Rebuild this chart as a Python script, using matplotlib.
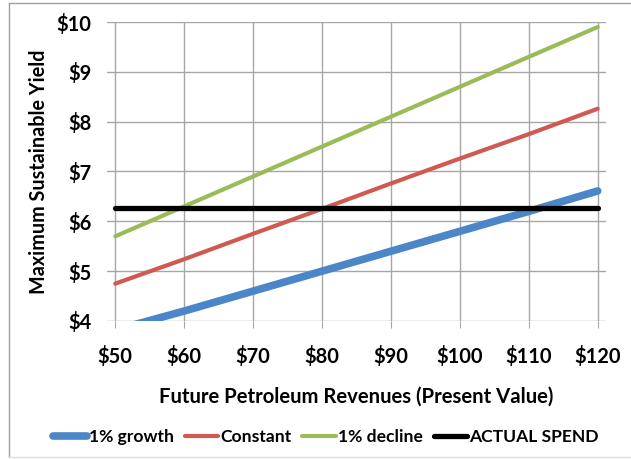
import matplotlib
matplotlib.use("Agg")
import matplotlib.pyplot as plt
from matplotlib.lines import Line2D

revenues = [50, 60, 70, 80, 90, 100, 110, 120]
growth_1pct = [3.82, 4.20, 4.60, 5.00, 5.40, 5.80, 6.20, 6.61]
constant = [4.75, 5.24, 5.75, 6.25, 6.76, 7.26, 7.75, 8.26]
decline_1pct = [5.70, 6.30, 6.90, 7.50, 8.10, 8.70, 9.30, 9.90]
actual_spend = [6.27] * len(revenues)

x_ticks = [50, 60, 70, 80, 90, 100, 110, 120]
x_labels = ["$50", "$60", "$70", "$80", "$90", "$100", "$110", "$120"]
y_ticks = [4, 5, 6, 7, 8, 9, 10]
y_labels = ["$4", "$5", "$6", "$7", "$8", "$9", "$10"]

plt.rcParams['font.family'] = ['Lato', 'DejaVu Sans']

W, H = 631, 459
fig = plt.figure(figsize=(W / 100, H / 100), dpi=100)
ax = fig.add_axes([107 / W, 1 - 321 / H, (606 - 107) / W, (321 - 22) / H])

ax.plot(revenues, growth_1pct, color="#4A86C8", lw=5.5, solid_capstyle="round", label="1% growth", zorder=3)
ax.plot(revenues, constant, color="#CF5A52", lw=3.0, solid_capstyle="round", label="Constant", zorder=3)
ax.plot(revenues, decline_1pct, color="#9BBB59", lw=3.0, solid_capstyle="round", label="1% decline", zorder=3)
ax.plot(revenues, actual_spend, color="black", lw=3.8, solid_capstyle="round", label="ACTUAL SPEND", zorder=4)

ax.set_xlim(48.8, 121.2)
ax.set_ylim(4, 10)
ax.set_xticks(x_ticks)
ax.set_xticklabels(x_labels, fontsize=14.5, fontweight="bold")
ax.set_yticks(y_ticks)
ax.set_yticklabels(y_labels, fontsize=14.5, fontweight="bold")
ax.grid(True, color="#A6A6A6", lw=1.0)
ax.set_axisbelow(True)
for s in ax.spines.values():
    s.set_visible(False)
ax.tick_params(axis="x", length=5, color="#A6A6A6", pad=13)
ax.tick_params(axis="y", length=0, pad=11)

ax.set_xlabel("Future Petroleum Revenues (Present Value)", fontsize=14.6, fontweight="bold", labelpad=14)
ax.set_ylabel("Maximum Sustainable Yield", fontsize=14.2, fontweight="bold", labelpad=6)

fig.legend(loc="center", bbox_to_anchor=(0.517, 1 - 437 / H), ncol=4, frameon=False,
           handlelength=1.9, handletextpad=0.15, columnspacing=0.6,
           prop={"weight": "bold", "size": 12.6})

# chart frame
fig.add_artist(Line2D([9 / W, 9 / W], [2 / H, 1 - 3 / H], color="#A0A0A0", lw=1.0))
fig.add_artist(Line2D([9 / W, 1], [1 - 3 / H, 1 - 3 / H], color="#A0A0A0", lw=1.0))
fig.add_artist(Line2D([9 / W, 1], [2 / H, 2 / H], color="#E0E0E0", lw=1.0))

fig.savefig("out.png", dpi=100)
